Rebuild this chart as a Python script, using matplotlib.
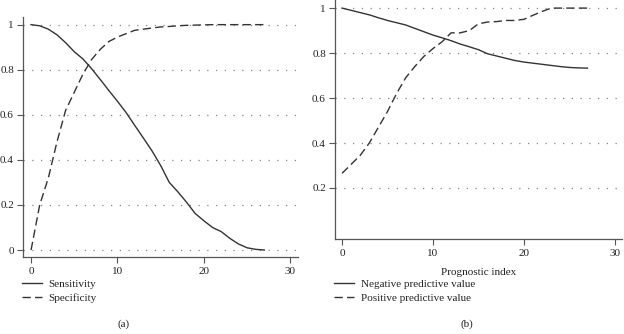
import matplotlib
matplotlib.use("Agg")
import matplotlib.pyplot as plt

plt.rcParams['font.family'] = ['Liberation Serif', 'DejaVu Serif']

# Panel (a)
x_a = list(range(0, 28))
sensitivity = [1.0, 0.995, 0.98, 0.955, 0.92, 0.88, 0.848, 0.805, 0.757, 0.708,
               0.66, 0.61, 0.553, 0.497, 0.44, 0.375, 0.30, 0.258, 0.212, 0.162,
               0.13, 0.10, 0.082, 0.052, 0.027, 0.01, 0.003, 0.0]
specificity = [0.0, 0.2, 0.32, 0.48, 0.62, 0.70, 0.78, 0.845, 0.89, 0.925,
               0.945, 0.96, 0.975, 0.98, 0.985, 0.99, 0.992, 0.995, 0.997, 0.998,
               0.999, 1.0, 1.0, 1.0, 1.0, 1.0, 1.0, 1.0]

# Panel (b)
x_b = list(range(0, 28))
npv = [1.0, 0.99, 0.98, 0.97, 0.957, 0.945, 0.935, 0.925, 0.91, 0.895,
       0.88, 0.868, 0.855, 0.84, 0.828, 0.815, 0.797, 0.787, 0.777, 0.767,
       0.76, 0.755, 0.75, 0.745, 0.74, 0.736, 0.734, 0.733]
ppv = [0.265, 0.305, 0.345, 0.40, 0.47, 0.54, 0.62, 0.69, 0.74, 0.785,
       0.82, 0.85, 0.89, 0.89, 0.90, 0.93, 0.938, 0.94, 0.945, 0.945,
       0.95, 0.968, 0.985, 1.0, 1.0, 1.0, 1.0, 1.0]

xticks = [0, 10, 20, 30]
yticks_a = [0, 0.2, 0.4, 0.6, 0.8, 1]
yticks_b = [0.2, 0.4, 0.6, 0.8, 1]
ylabels_a = ['0', '0.2', '0.4', '0.6', '0.8', '1']
ylabels_b = ['0.2', '0.4', '0.6', '0.8', '1']

fig = plt.figure(figsize=(6.24, 3.34), dpi=100)
ax1 = fig.add_axes([0.0369, 0.2305, 0.4407, 0.7186])
ax2 = fig.add_axes([0.5369, 0.2844, 0.46, 0.7156])

lc = '#333333'
fs = 8

def style(ax, yticks, ylabels, xlim, ylim):
    ax.set_xlim(*xlim)
    ax.set_ylim(*ylim)
    for s in ['top', 'right']:
        ax.spines[s].set_visible(False)
    for s in ['left', 'bottom']:
        ax.spines[s].set_color('#555555')
        ax.spines[s].set_linewidth(0.9)
    ax.set_xticks(xticks)
    ax.set_xticklabels([str(t) for t in xticks], fontsize=fs)
    ax.set_yticks(yticks)
    ax.set_yticklabels(ylabels, fontsize=fs)
    ax.tick_params(axis='x', direction='out', length=4, width=0.8,
                   color='#555555', pad=3.5, labelcolor='#222222')
    ax.tick_params(axis='y', direction='out', length=4, width=0.8,
                   color='#555555', pad=2.5, labelcolor='#222222')
    for yv in yticks:
        ax.axhline(yv, color='#888888', linestyle=(0, (1, 6)), linewidth=0.9, zorder=0)

style(ax1, yticks_a, ylabels_a, (-0.93, 30.9), (-0.031, 1.034))
style(ax2, yticks_b, ylabels_b, (-0.77, 30.8), (-0.027, 1.036))

l1, = ax1.plot(x_a, sensitivity, color=lc, linewidth=1.0, linestyle='-', label='Sensitivity')
l2, = ax1.plot(x_a, specificity, color=lc, linewidth=1.0, linestyle=(0, (6, 3)), label='Specificity')
l3, = ax2.plot(x_b, npv, color=lc, linewidth=1.0, linestyle='-', label='Negative predictive value')
l4, = ax2.plot(x_b, ppv, color=lc, linewidth=1.0, linestyle=(0, (6, 3)), label='Positive predictive value')

ax2.set_xlabel('Prognostic index', fontsize=fs, color='#222222', labelpad=7)

leg_kw = dict(frameon=False, fontsize=fs, handlelength=1.8, handletextpad=0.6,
              labelspacing=0.4, borderaxespad=0, borderpad=0)
leg1 = fig.legend(handles=[l1, l2], loc='upper left', bbox_to_anchor=(0.035, 1 - 279 / 334), **leg_kw)
leg2 = fig.legend(handles=[l3, l4], loc='upper left', bbox_to_anchor=(0.536, 1 - 279 / 334), **leg_kw)
for leg in (leg1, leg2):
    for t in leg.get_texts():
        t.set_color('#222222')

fig.text(124 / 624, 1 - 324 / 334, '(a)', fontsize=fs, ha='center', va='center', color='#222222')
fig.text(467 / 624, 1 - 324 / 334, '(b)', fontsize=fs, ha='center', va='center', color='#222222')

fig.savefig('out.png', dpi=100)
